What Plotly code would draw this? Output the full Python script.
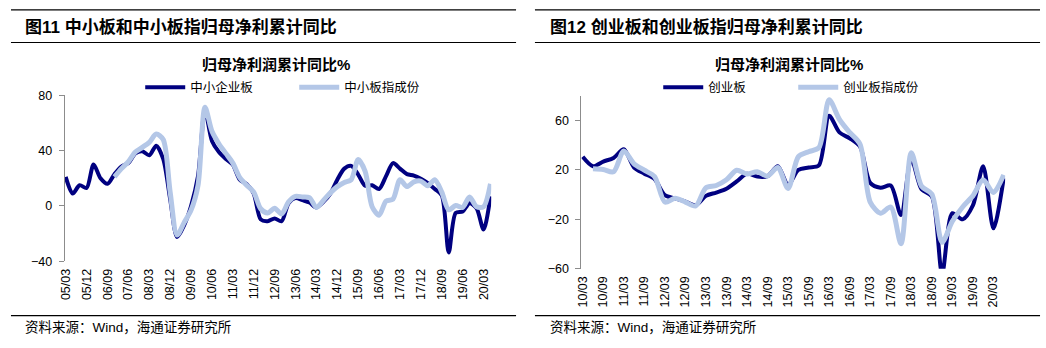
import plotly.graph_objects as go

W, H = 1046, 348

# ---------------- data ----------------
LEFT_QUARTERS = [f"{y:02d}/{m:02d}" for y in range(5, 21) for m in (3, 6, 9, 12)][:62]
LEFT_TICKS = ["05/03", "05/12", "06/09", "07/06", "08/03", "08/12", "09/09", "10/06",
              "11/03", "11/12", "12/09", "13/06", "14/03", "14/12", "15/09", "16/06",
              "17/03", "17/12", "18/09", "19/06", "20/03"]
SME_BOARD = [21, 9, 15, 13, 30, 20, 16, 23, 28.5, 31,
             38, 39.5, 36.7, 43.6, 34, 5, -22.5, -14, 0, 21.6,
             69, 47, 39, 34, 29.7, 19, 15.8, 9, -9.7, -11,
             -9, -11, 2, 5.8, 4.2, 2.5, -1, 3, 9, 19,
             27, 29, 22.7, 14.6, 15, 12.3, 21.6, 31, 27, 23,
             22, 19.7, 16.5, 12.3, 7.7, -33.6, -5, -4, 2, -1.6,
             -17, 7]
SME_INDEX = [None, None, None, None, None, None, None, 21, 27, 32,
             39, 42.4, 46, 52, 48, 10, -21, -12, -3, 15,
             71.4, 54, 45, 38, 31, 20.5, 15, 10, -2, -5,
             -1.6, -5.8, 3, 7, 6.5, 6, -1, 4, 9.5, 14,
             17, 19, 33.6, 25, -0.5, -6.7, 3.5, 5, 19, 14,
             17.4, 18, 14.6, 19, 10, -2.8, 0.3, -1, 6.5, -0.5,
             -0.5, 16]

RIGHT_QUARTERS = [f"{y:02d}/{m:02d}" for y in range(10, 21) for m in (3, 6, 9, 12)][:42]
RIGHT_TICKS = ["10/03", "10/09", "11/03", "11/09", "12/03", "12/09", "13/03", "13/09",
               "14/03", "14/09", "15/03", "15/09", "16/03", "16/09", "17/03", "17/09",
               "18/03", "18/09", "19/03", "19/09", "20/03"]
CHINEXT = [30.7, 23, 26.8, 29.7, 36.7, 22, 17, 12.6, -0.4, -3,
           -5.6, -8.7, -1, 1.7, 4.8, 10.7, 17, 14.6, 15, 23,
           8, 20, 22, 23.7, 63.9, 50.4, 45.7, 39, 9.5, 5.6,
           7.4, -16.5, 29, 4.3, -1.4, -64, -15, -20, -8.7, 23,
           -27.3, 13.4]
CHINEXT_INDEX = [None, 21, 20.4, 18.5, 35.4, 25, 19.8, 14.6, -6, -3,
                 -6, -9.2, 5.6, 7.4, 12, 19.8, 16.7, 18.5, 15, 22,
                 5, 30.7, 34.8, 38, 76.8, 61, 50.4, 41, -6, -15,
                 -10, -39.8, 34, 6.8, 0.4, -38.5, -21.6, -10, -1, 12,
                 1.7, 16]

# ---------------- style ----------------
DARK = "#000080"
LIGHT = "#B4C7E7"
GRAY = "#8C8C8C"
FONT = "Liberation Sans, Arial, Noto Sans CJK SC"
CJK = "Liberation Sans, Noto Sans CJK SC"


def px(x):
    return x / W


def py(y):
    return 1 - y / H


fig = go.Figure()

fig.add_trace(go.Scatter(x=LEFT_QUARTERS, y=SME_BOARD, name="中小企业板", mode="lines",
                         line=dict(color=DARK, width=4, shape="spline", smoothing=0.8),
                         xaxis="x", yaxis="y", legend="legend"))
fig.add_trace(go.Scatter(x=LEFT_QUARTERS, y=SME_INDEX, name="中小板指成份", mode="lines",
                         line=dict(color=LIGHT, width=5, shape="spline", smoothing=0.8),
                         xaxis="x", yaxis="y", legend="legend"))
fig.add_trace(go.Scatter(x=RIGHT_QUARTERS, y=CHINEXT, name="创业板", mode="lines",
                         line=dict(color=DARK, width=4, shape="spline", smoothing=0.8),
                         xaxis="x2", yaxis="y2", legend="legend2"))
fig.add_trace(go.Scatter(x=RIGHT_QUARTERS, y=CHINEXT_INDEX, name="创业板指成份", mode="lines",
                         line=dict(color=LIGHT, width=5, shape="spline", smoothing=0.8),
                         xaxis="x2", yaxis="y2", legend="legend2"))

# plot area geometry (pixels)
L_X0, L_X1, L_Y0, L_Y1 = 59, 488, 92, 265
R_X0, R_X1, R_Y0, R_Y1 = 578.7, 1005, 92.6, 272.7
L_YR = [-40, 80]
R_YR = [-60, 80]
L_XR = [-0.15, 61.1]
R_XR = [-0.13, 41.15]

l_dom_y = [py(L_Y1), py(L_Y0)]
r_dom_y = [py(R_Y1), py(R_Y0)]
l_zero = l_dom_y[0] + (0 - L_YR[0]) / (L_YR[1] - L_YR[0]) * (l_dom_y[1] - l_dom_y[0])
r_zero = r_dom_y[0] + (0 - R_YR[0]) / (R_YR[1] - R_YR[0]) * (r_dom_y[1] - r_dom_y[0])

tickfont = dict(family=FONT, size=12.5, color="#000000")

common_x = dict(type="category", showline=False, ticks="", showgrid=False, zeroline=False,
                tickangle=-90, tickfont=tickfont, ticklabelstandoff=4)
common_y = dict(showline=True, linecolor=GRAY, linewidth=1, ticks="outside", ticklen=5,
                tickcolor=GRAY, showgrid=False, zeroline=False, tickfont=tickfont,
                ticklabelstandoff=4)
zero_axis = dict(type="linear", showline=True, linecolor="#A6A6A6", linewidth=1.5,
                 ticks="outside", ticklen=5, tickcolor="#A6A6A6", showticklabels=False,
                 showgrid=False, zeroline=False, anchor="free")

fig.update_layout(
    width=W, height=H, margin=dict(l=0, r=0, t=0, b=0),
    paper_bgcolor="white", plot_bgcolor="rgba(0,0,0,0)",
    xaxis=dict(common_x, domain=[px(L_X0), px(L_X1)], range=L_XR, anchor="y",
               tickmode="array", tickvals=LEFT_TICKS, ticktext=LEFT_TICKS),
    yaxis=dict(common_y, domain=l_dom_y, range=L_YR, anchor="x", tick0=-40, dtick=40),
    xaxis2=dict(common_x, domain=[px(R_X0), px(R_X1)], range=R_XR, anchor="y2",
                tickmode="array", tickvals=RIGHT_TICKS, ticktext=RIGHT_TICKS),
    yaxis2=dict(common_y, domain=r_dom_y, range=R_YR, anchor="x2",
                tickmode="array", tickvals=[-60, -20, 20, 60]),
    xaxis3=dict(zero_axis, overlaying="x", domain=[px(L_X0), px(L_X1)], range=L_XR,
                position=l_zero, tickmode="array",
                tickvals=[LEFT_QUARTERS.index(t) for t in LEFT_TICKS]),
    xaxis4=dict(zero_axis, overlaying="x2", domain=[px(R_X0), px(R_X1)], range=R_XR,
                position=r_zero, tickmode="array",
                tickvals=[RIGHT_QUARTERS.index(t) for t in RIGHT_TICKS]),
    legend=dict(orientation="h", x=px(135), y=py(84), xanchor="left", yanchor="middle",
                bgcolor="rgba(0,0,0,0)", font=dict(family=CJK, size=12.5, color="#000"),
                itemwidth=40, entrywidth=99, tracegroupgap=0),
    legend2=dict(orientation="h", x=px(656), y=py(84), xanchor="left", yanchor="middle",
                 bgcolor="rgba(0,0,0,0)", font=dict(family=CJK, size=12.5, color="#000"),
                 itemwidth=40, entrywidth=80, tracegroupgap=0),
    showlegend=True,
)

# rules
for (a, b) in [(5, 513), (532, 1040)]:
    for yy in (3, 37, 321.5):
        fig.add_shape(type="line", xref="paper", yref="paper", x0=px(a), x1=px(b),
                      y0=py(yy), y1=py(yy), line=dict(color="#000000", width=1.2))

ann = [
    dict(text="图11 中小板和中小板指归母净利累计同比", x=17, y=21, xanchor="left", size=17, bold=True),
    dict(text="图12 创业板和创业板指归母净利累计同比", x=545, y=21, xanchor="left", size=17, bold=True),
    dict(text="归母净利润累计同比%", x=272, y=60, xanchor="center", size=15, bold=True),
    dict(text="归母净利润累计同比%", x=788, y=60, xanchor="center", size=15, bold=True),
    dict(text="资料来源：Wind，海通证券研究所", x=17, y=333.5, xanchor="left", size=13.5, bold=False),
    dict(text="资料来源：Wind，海通证券研究所", x=545, y=333.5, xanchor="left", size=13.5, bold=False),
]
for a in ann:
    fig.add_annotation(text=a["text"], xref="paper", yref="paper", x=px(a["x"]), y=py(a["y"]),
                       xanchor=a["xanchor"], yanchor="middle", showarrow=False,
                       font=dict(family=CJK, size=a["size"], color="#000000",
                                 weight="bold" if a["bold"] else "normal"))

fig.write_html("out.html")
